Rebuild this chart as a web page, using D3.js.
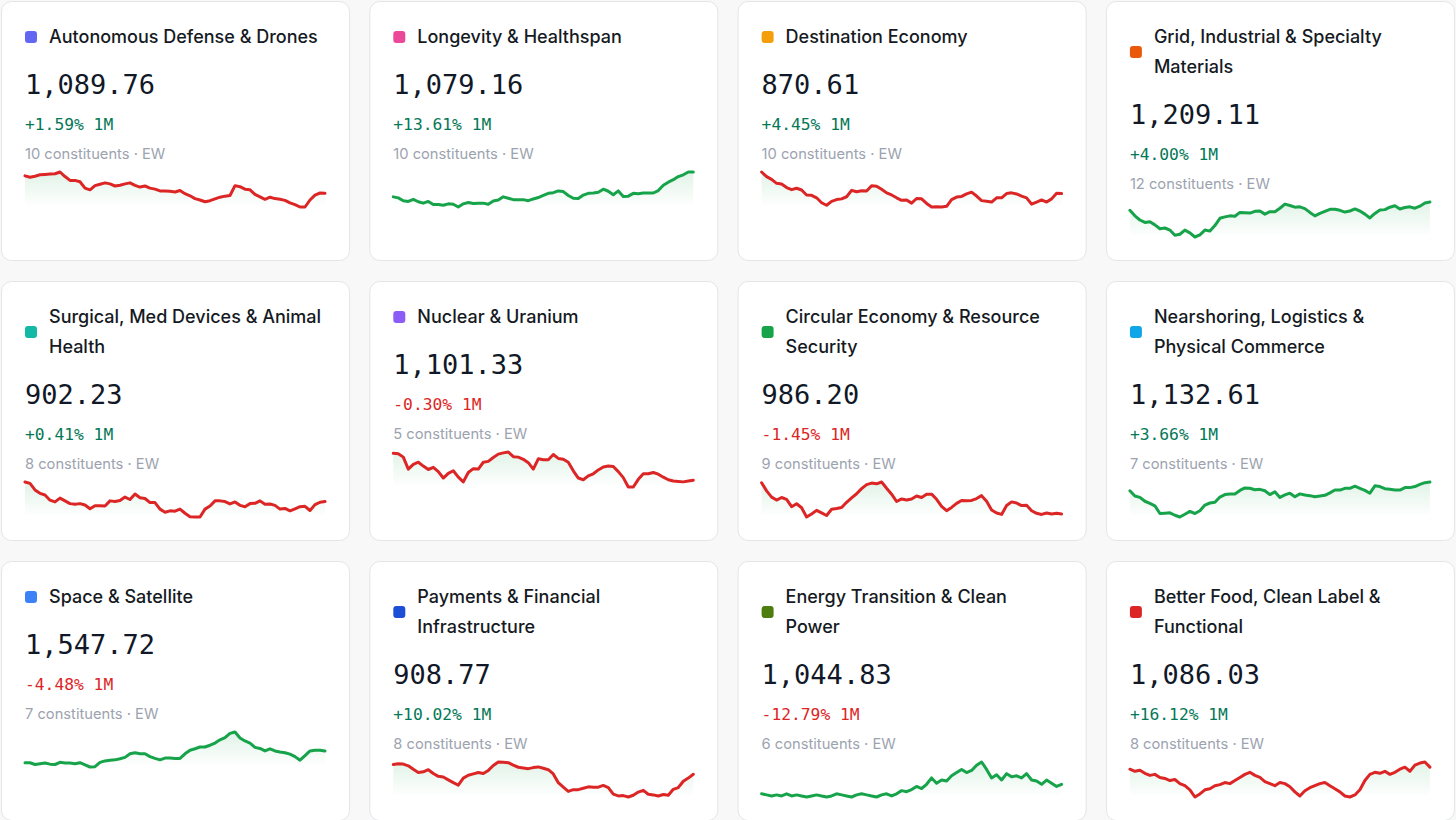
<!DOCTYPE html>
<html lang="en">
  <head>
    <meta charset="UTF-8" />
    <title>Thematic Indices</title>
    <script src="https://cdn.jsdelivr.net/npm/d3@7"></script>
    <style>
      body {
        margin: 0;
        background: #f8f8f8;
      }
      .card {
        fill: #ffffff;
        stroke: #e3e5e8;
        stroke-width: 1px;
      }
      .title {
        font-family: Inter, "Noto Sans", sans-serif;
        font-size: 18px;
        font-weight: 500;
        fill: #151a23;
      }
      .level {
        font-family: "DejaVu Sans Mono", monospace;
        font-size: 27px;
        fill: #111827;
      }
      .change {
        font-family: "DejaVu Sans Mono", monospace;
        font-size: 16.3px;
      }
      .meta {
        font-family: Inter, "Noto Sans", sans-serif;
        font-size: 14.7px;
        fill: #9ca3af;
      }
      .spark {
        fill: none;
        stroke-width: 3px;
        stroke-linejoin: round;
        stroke-linecap: round;
      }
    </style>
  </head>

  <body>
    <script>
    // card contents
    var names = [
      ["Autonomous Defense & Drones"],
      ["Longevity & Healthspan"],
      ["Destination Economy"],
      ["Grid, Industrial & Specialty", "Materials"],
      ["Surgical, Med Devices & Animal", "Health"],
      ["Nuclear & Uranium"],
      ["Circular Economy & Resource", "Security"],
      ["Nearshoring, Logistics &", "Physical Commerce"],
      ["Space & Satellite"],
      ["Payments & Financial", "Infrastructure"],
      ["Energy Transition & Clean", "Power"],
      ["Better Food, Clean Label &", "Functional"]
    ];
    var swatches = ["#6366f1", "#ec4899", "#f59e0b", "#ea580c", "#14b8a6", "#8b5cf6",
                    "#16a34a", "#0ea5e9", "#3b82f6", "#1d4ed8", "#4d7c0f", "#dc2626"];
    var levels = [1089.76, 1079.16, 870.61, 1209.11, 902.23, 1101.33,
                  986.20, 1132.61, 1547.72, 908.77, 1044.83, 1086.03];
    var changes = [1.59, 13.61, 4.45, 4.00, 0.41, -0.30, -1.45, 3.66, -4.48, 10.02, -12.79, 16.12];
    var constituents = [10, 10, 10, 12, 8, 5, 9, 7, 7, 8, 6, 8];
    var trends = ["down", "up", "down", "up", "down", "down", "down", "up", "up", "down", "up", "down"];

    // sparkline series (relative index level)
    var spark1 = [97,93,96,100,101,102,103,108,95,84,84,80,62,57,69,73,77,74,68,70,74,77,70,65,68,62,59,54,54,53,51,55,46,40,32,28,23,26,31,36,39,41,69,66,59,57,44,37,30,36,32,30,27,20,15,8,8,28,42,48,47];
    var spark2 = [37,34,26,24,30,23,19,24,15,15,13,17,16,8,17,21,18,19,19,16,25,28,37,33,29,29,29,26,31,35,41,47,49,54,52,41,33,32,42,47,48,50,59,53,43,54,38,39,47,46,48,48,48,55,70,79,86,95,100,108,108];
    var spark3 = [108,95,87,76,74,64,58,62,57,43,42,35,21,14,25,30,32,38,56,52,55,54,69,68,59,49,43,35,28,29,20,33,32,19,9,10,9,11,30,37,39,46,51,40,27,25,23,35,35,47,49,46,40,35,17,23,29,23,32,48,47];
    var spark4 = [82,66,54,47,49,40,29,31,25,10,13,25,17,5,11,25,22,38,59,63,66,65,76,75,74,79,80,71,78,78,88,100,96,91,92,87,76,66,73,79,85,85,82,77,80,86,80,71,60,73,83,84,91,95,86,90,92,88,94,103,106];
    var spark5 = [120,116,97,87,82,67,62,73,65,57,55,57,53,42,51,51,50,65,63,66,76,69,85,74,72,60,60,41,32,36,35,41,29,19,18,18,41,50,65,65,63,56,62,52,48,57,58,65,55,56,52,41,43,36,42,48,49,37,54,61,63];
    var spark6 = [95,94,86,58,69,74,65,57,62,52,37,48,54,39,28,50,59,58,74,76,85,93,96,98,87,86,81,73,58,82,80,80,92,83,81,74,54,37,33,42,47,56,63,65,64,52,38,16,16,34,47,47,50,46,39,33,30,29,28,30,32];
    var spark7 = [117,95,78,70,77,72,52,60,49,24,32,42,35,28,45,47,50,64,76,87,101,112,116,114,119,102,86,66,73,70,73,81,77,86,86,72,53,41,50,61,69,68,69,74,82,67,43,35,31,55,65,62,55,56,41,34,31,35,32,34,32];
    var spark8 = [93,78,74,63,57,50,28,29,30,23,18,26,34,28,36,52,58,60,75,82,84,84,94,101,100,96,97,93,82,90,74,81,86,76,84,81,79,76,78,80,87,95,95,100,100,106,100,94,86,107,105,99,97,95,95,102,102,105,111,116,118];
    var spark9 = [17,17,12,14,16,13,12,18,16,16,14,17,11,5,6,18,22,24,25,28,32,42,45,42,42,34,29,25,30,30,29,29,42,52,56,61,61,66,72,81,87,99,103,86,78,72,60,57,50,56,50,47,45,41,34,24,37,50,52,52,50];
    var spark10 = [95,97,96,91,81,72,74,80,69,61,59,51,43,36,56,64,68,72,69,78,92,102,101,100,93,87,85,83,86,88,84,80,68,43,30,18,23,23,27,31,30,30,35,29,10,5,6,2,7,16,21,10,8,5,9,7,24,29,47,56,67];
    var spark11 = [7,6,5,6,5,7,5,6,5,4,5,6,5,4,5,7,6,5,4,6,7,6,5,4,6,7,5,7,10,9,11,14,12,16,22,17,20,19,24,27,30,27,29,34,37,30,22,25,20,26,23,24,22,26,20,19,16,20,17,14,16];
    var spark12 = [30,28,29,26,24,25,22,21,19,20,16,14,10,3,6,10,11,14,15,17,16,19,22,25,27,24,22,18,16,14,17,16,13,8,4,9,12,14,16,17,14,11,8,4,3,5,10,19,25,27,26,28,25,27,30,32,28,34,36,37,32];
    var sparks = [spark1, spark2, spark3, spark4, spark5, spark6, spark7, spark8, spark9, spark10, spark11, spark12];

    var W = 1456, H = 820;
    var cardW = 348, cardH = 259;
    var colStep = 368.3, rowStep = 280;
    var pad = 24;
    var lineH = 30;
    var sparkW = 300, sparkH = 35;

    var lineColor = { up: "#16a34a", down: "#dc2626" };
    // plain hyphen minus, like the original
    var locale = d3.formatLocale({ decimal: ".", thousands: ",", grouping: [3], currency: ["$", ""], minus: "-" });
    var fmtLevel = locale.format(",.2f");
    var fmtChange = locale.format("+.2f");

    var svg = d3.select("body").append("svg")
      .attr("width", W)
      .attr("height", H);

    var grad = svg.append("defs").append("linearGradient")
      .attr("id", "sparkFill")
      .attr("x1", 0).attr("y1", 0)
      .attr("x2", 0).attr("y2", 1);
    grad.append("stop").attr("offset", "0%").attr("stop-color", "#16a34a").attr("stop-opacity", 0.13);
    grad.append("stop").attr("offset", "100%").attr("stop-color", "#16a34a").attr("stop-opacity", 0);

    names.forEach(function(title, i) {
      var col = i % 4, row = Math.floor(i / 4);
      var g = svg.append("g")
        .attr("transform", "translate(" + (1 + col * colStep) + "," + (1 + row * rowStep) + ")");

      g.append("rect")
        .attr("class", "card")
        .attr("x", 0.5).attr("y", 0.5)
        .attr("width", cardW).attr("height", cardH)
        .attr("rx", 10);

      var extra = (title.length - 1) * lineH;

      // title + swatch
      g.append("rect")
        .attr("x", pad).attr("y", 30 + extra / 2)
        .attr("width", 12).attr("height", 12)
        .attr("rx", 3)
        .attr("fill", swatches[i]);
      g.append("text")
        .attr("class", "title")
        .selectAll("tspan")
        .data(title)
        .join("tspan")
        .attr("x", 48)
        .attr("y", function(d, k) { return 42 + k * lineH; })
        .text(function(d) { return d; });

      g.append("text")
        .attr("class", "level")
        .attr("x", pad)
        .attr("y", 93 + extra)
        .text(fmtLevel(levels[i]));

      g.append("text")
        .attr("class", "change")
        .attr("x", pad)
        .attr("y", 129 + extra)
        .attr("fill", changes[i] < 0 ? "#dc2626" : "#047857")
        .text(fmtChange(changes[i]) + "% 1M");

      g.append("text")
        .attr("class", "meta")
        .attr("x", pad)
        .attr("y", 158 + extra)
        .text(constituents[i] + " constituents \u00b7 EW");

      // sparkline
      var data = sparks[i];
      var x = d3.scaleLinear().domain([0, data.length - 1]).range([pad, pad + sparkW]);
      var y = d3.scaleLinear().domain(d3.extent(data)).range([171 + extra + sparkH, 171 + extra]);

      var area = d3.area()
        .x(function(d, k) { return x(k); })
        .y0(y.range()[0])
        .y1(function(d) { return y(d); });
      var line = d3.line()
        .x(function(d, k) { return x(k); })
        .y(function(d) { return y(d); });

      g.append("path")
        .datum(data)
        .attr("fill", "url(#sparkFill)")
        .attr("d", area);
      g.append("path")
        .datum(data)
        .attr("class", "spark")
        .attr("stroke", lineColor[trends[i]])
        .attr("d", line);
    });
    </script>
  </body>
</html>
